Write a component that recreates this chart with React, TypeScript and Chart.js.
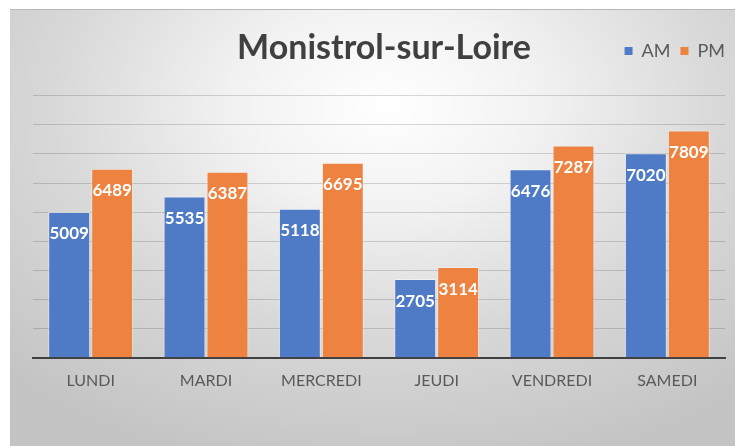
import React, { useEffect, useRef } from "react";
import { Chart, registerables } from "chart.js";

Chart.register(...registerables);

const categories = ["LUNDI", "MARDI", "MERCREDI", "JEUDI", "VENDREDI", "SAMEDI"];
const amValues = [5009, 5535, 5118, 2705, 6476, 7020];
const pmValues = [6489, 6387, 6695, 3114, 7287, 7809];
const seriesNames = ["AM", "PM"];
const chartTitle = "Monistrol-sur-Loire";
const yMin = 0;
const yMax = 9000;
const yStep = 1000;

const FONT = "Lato, 'Open Sans', sans-serif";

const valueLabels = {
  id: "valueLabels",
  afterDatasetsDraw(chart: any) {
    const ctx = chart.ctx;
    ctx.save();
    ctx.font = `bold 17px ${FONT}`;
    ctx.fillStyle = "#ffffff";
    ctx.textAlign = "center";
    ctx.textBaseline = "middle";
    chart.data.datasets.forEach((ds: any, di: number) => {
      const meta = chart.getDatasetMeta(di);
      meta.data.forEach((el: any, i: number) => {
        ctx.fillText(String(ds.data[i]), el.x, el.y + 22);
      });
    });
    ctx.restore();
  },
};

export default function App() {
  const ref = useRef<HTMLCanvasElement | null>(null);
  useEffect(() => {
    if (!ref.current) return;
    const chart = new Chart(ref.current, {
      type: "bar",
      data: {
        labels: categories,
        datasets: [
          {
            label: seriesNames[0],
            data: amValues,
            backgroundColor: "#4F7AC6",
            borderColor: "rgba(255,255,255,0.4)",
            borderWidth: 1,
            categoryPercentage: 0.745,
            barPercentage: 0.975,
          },
          {
            label: seriesNames[1],
            data: pmValues,
            backgroundColor: "#EE8341",
            borderColor: "rgba(255,255,255,0.4)",
            borderWidth: 1,
            categoryPercentage: 0.745,
            barPercentage: 0.975,
          },
        ],
      },
      options: {
        animation: false,
        responsive: false,
        maintainAspectRatio: false,
        layout: { padding: { left: 23, right: 0, top: 22, bottom: 43 } },
        plugins: {
          tooltip: { enabled: false },
          legend: {
            position: "top",
            align: "end",
            weight: 3000,
            labels: {
              boxWidth: 8,
              boxHeight: 8,
              padding: 10,
              color: "#595959",
              font: { family: FONT, size: 18 },
              generateLabels(chart: any) {
                const items = Chart.defaults.plugins.legend.labels.generateLabels(chart);
                items.forEach((it: any) => {
                  it.lineWidth = 0;
                  it.strokeStyle = "rgba(0,0,0,0)";
                });
                return items;
              },
            },
          },
          title: {
            display: true,
            text: chartTitle,
            color: "#404040",
            font: { family: FONT, size: 34, weight: "bold" },
            padding: { top: -42, bottom: 26.9 },
          },
        },
        scales: {
          x: {
            grid: { display: false, drawTicks: false },
            border: { display: true, color: "#404040", width: 2 },
            ticks: {
              color: "#595959",
              font: { family: FONT, size: 16 },
              padding: 13,
              maxRotation: 0,
            },
          },
          y: {
            min: yMin,
            max: yMax,
            ticks: { display: false, stepSize: yStep },
            grid: { color: "rgba(0,0,0,0.15)", lineWidth: 1, drawTicks: false },
            border: { display: false },
          },
          yRight: {
            position: "right",
            display: true,
            min: yMin,
            max: yMax,
            ticks: { display: false },
            grid: { display: false, drawTicks: false },
            border: { display: false },
            afterFit(scale: any) {
              scale.width = 10;
            },
          },
        },
      },
      plugins: [valueLabels],
    });
    return () => chart.destroy();
  }, []);

  return (
    <div
      style={{
        position: "absolute",
        left: 10,
        top: 9,
        width: 725,
        height: 437,
        borderTop: "1px solid #b8b8b8",
        boxSizing: "border-box",
        background:
          "radial-gradient(ellipse 75% 85% at 52% 22%, #ffffff 0%, #f2f2f2 28%, #d8d8d8 62%, #c4c4c4 100%)",
      }}
    >
      <canvas ref={ref} width={725} height={436} style={{ display: "block" }} />
    </div>
  );
}
